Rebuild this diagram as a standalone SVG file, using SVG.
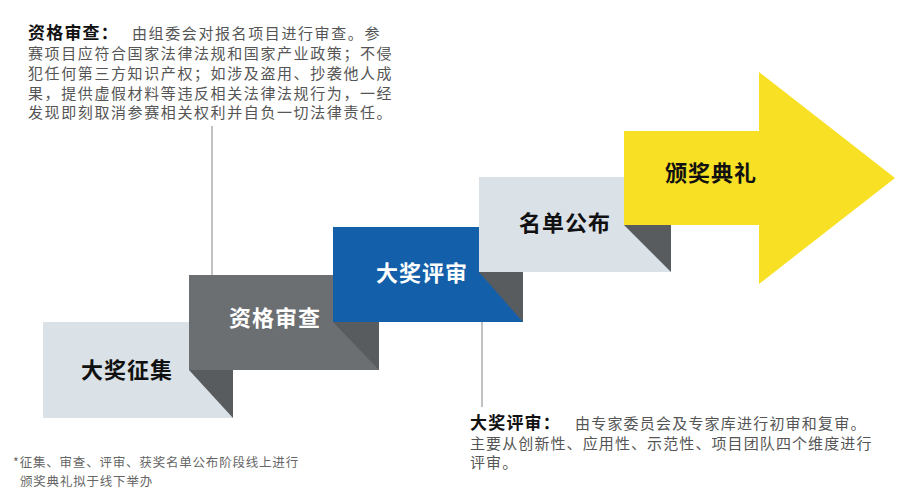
<svg xmlns="http://www.w3.org/2000/svg" width="900" height="500" viewBox="0 0 900 500">
<style>
.cjk{font-family:"Noto Sans CJK SC","Noto Sans",sans-serif}
.lbl{font-size:22px;font-weight:700;text-anchor:middle;letter-spacing:1px}
.dark{fill:#111}
.white{fill:#fff}
.fold{fill:#595C5E}
.desc{font-size:15px;fill:#555;letter-spacing:1.6px}
.head{font-size:17px;font-weight:700;fill:#111;letter-spacing:1.2px}
.note{font-size:12.5px;fill:#666;letter-spacing:0.8px}
.conn{stroke:#999;stroke-width:1.2;fill:none}
</style>
<rect width="900" height="500" fill="#fff"/>
<g id="connectors">
<line class="conn" x1="212" y1="126" x2="212" y2="276"/>
<line class="conn" x1="482" y1="322" x2="482" y2="407" stroke="#666"/>
</g>
<g id="n1">
<rect x="43" y="322" width="190" height="96" fill="#DAE2E8"/>
<polygon class="fold" points="189,370 233,370 233,418"/>
<text class="cjk lbl dark" x="127" y="378">大奖征集</text>
</g>
<g id="n2">
<rect x="189" y="275" width="190" height="95" fill="#6C6F72"/>
<polygon class="fold" points="333,322 379,322 379,370"/>
<text class="cjk lbl white" x="275" y="326">资格审查</text>
</g>
<g id="n3">
<rect x="333" y="227" width="190" height="95" fill="#135FA9"/>
<polygon class="fold" points="479,272 523,272 523,322"/>
<text class="cjk lbl white" x="422" y="281">大奖评审</text>
</g>
<g id="n4">
<rect x="479" y="177" width="192" height="95" fill="#DAE2E8"/>
<polygon class="fold" points="624,225 671,225 671,272"/>
<text class="cjk lbl dark" x="565" y="231">名单公布</text>
</g>
<g id="n5">
<polygon points="624,131 759,131 759,72 895,178 759,284 759,225 624,225" fill="#F8E024"/>
<text class="cjk lbl dark" x="711" y="181">颁奖典礼</text>
</g>
<g id="desc1">
<text class="cjk" x="28" y="39"><tspan class="head">资格审查：</tspan><tspan class="desc" x="132">由组委会对报名项目进行审查。参</tspan></text>
<text class="cjk desc" x="28" y="59">赛项目应符合国家法律法规和国家产业政策；不侵</text>
<text class="cjk desc" x="28" y="79">犯任何第三方知识产权；如涉及盗用、抄袭他人成</text>
<text class="cjk desc" x="28" y="99">果，提供虚假材料等违反相关法律法规行为，一经</text>
<text class="cjk desc" x="28" y="118">发现即刻取消参赛相关权利并自负一切法律责任。</text>
</g>
<g id="desc2">
<text class="cjk" x="470" y="429"><tspan class="head">大奖评审：</tspan><tspan class="desc" x="575" style="letter-spacing:1.2px">由专家委员会及专家库进行初审和复审。</tspan></text>
<text class="cjk desc" x="470" y="449" style="letter-spacing:1.1px">主要从创新性、应用性、示范性、项目团队四个维度进行</text>
<text class="cjk desc" x="470" y="468" style="letter-spacing:1.1px">评审。</text>
</g>
<g id="footnote">
<text class="cjk note" x="13" y="467">*征集、审查、评审、获奖名单公布阶段线上进行</text>
<text class="cjk note" x="20" y="486">颁奖典礼拟于线下举办</text>
</g>
</svg>
